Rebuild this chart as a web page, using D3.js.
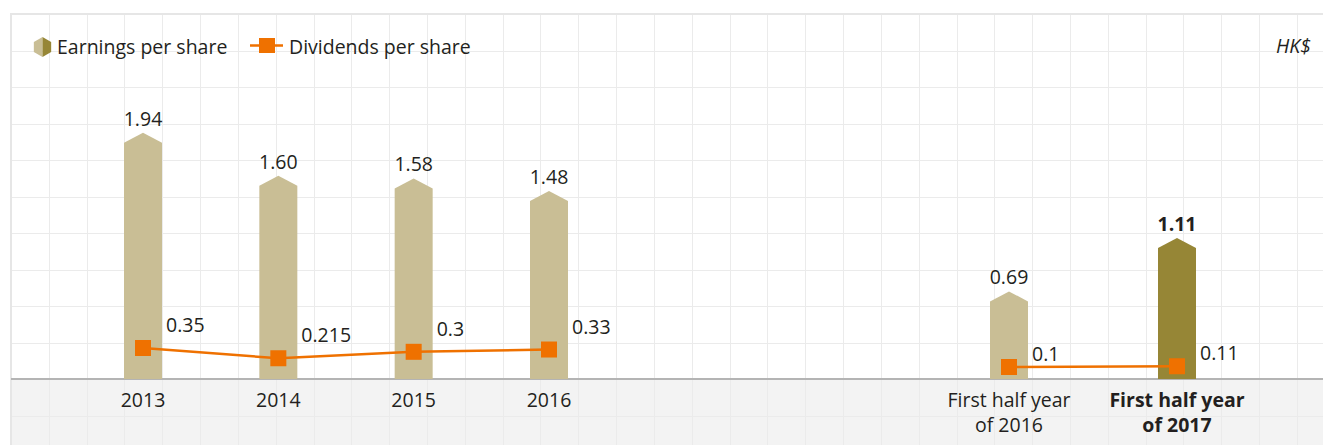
<!DOCTYPE html>
<html><head><meta charset="utf-8">
<script src="https://cdn.jsdelivr.net/npm/d3@7"></script>
<style>html,body{margin:0;padding:0;background:#fff;}svg{display:block;}</style>
</head><body>
<svg id="chart" width="1323" height="445"></svg>
<script>
// ---- data ----
const yearCategories = ["2013", "2014", "2015", "2016"];
const yearEPS = [1.94, 1.60, 1.58, 1.48];
const yearDPS = [0.35, 0.215, 0.3, 0.33];
const yearEPSLabels = ["1.94", "1.60", "1.58", "1.48"];
const yearDPSLabels = ["0.35", "0.215", "0.3", "0.33"];

const halfCategories = ["H1 2016", "H1 2017"];
const halfTickLabels = [["First half year", "of 2016"], ["First half year", "of 2017"]];
const halfEPS = [0.69, 1.11];
const halfDPS = [0.1, 0.11];
const halfEPSLabels = ["0.69", "1.11"];
const halfDPSLabels = ["0.1", "0.11"];

const legendLabels = ["Earnings per share", "Dividends per share"];
const unitLabel = "HK$";

(function () {
// ---- layout ----
const W = 1323, H = 445;
const topY = 14, base = 379, left = 11;
const font = "'Open Sans', 'Noto Sans', sans-serif";
const fs = 19.5;
const textColor = "#231f20";
const barLight = "#c9be95", barDark = "#968636", orange = "#ef7100";
const barW = 38, peak = 10, sq = 16;

const svg = d3.select("#chart").style("font-family", font);

// scales
const y = d3.scaleLinear().domain([0, 2.875]).range([base, topY]);
const y2 = d3.scaleLinear().domain([0, 1]).range([374.6, 298.6]);
const xYears = d3.scalePoint().domain(yearCategories).range([143, 549]);
const xHalf = d3.scalePoint().domain(halfCategories).range([1009, 1177]);

// background grey band
svg.append("rect").attr("x", left).attr("y", base).attr("width", W - left).attr("height", H - base).attr("fill", "#f3f3f3");

// grid
const gx = d3.range(left, W + 1, 37.82);
const gy = d3.range(topY, H + 1, 36.5);
const grid = svg.append("g").attr("stroke", "#ebebeb").attr("stroke-width", 1);
grid.selectAll("line.v").data(gx).join("line").attr("class", "v")
  .attr("x1", d => Math.round(d) + 0.5).attr("x2", d => Math.round(d) + 0.5)
  .attr("y1", topY).attr("y2", H);
grid.selectAll("line.h").data(gy).join("line").attr("class", "h")
  .attr("x1", left).attr("x2", W)
  .attr("y1", d => Math.round(d) + 0.5).attr("y2", d => Math.round(d) + 0.5);
// borders
svg.append("line").attr("x1", left - 1).attr("x2", W).attr("y1", topY).attr("y2", topY).attr("stroke", "#e6e6e6").attr("stroke-width", 2);
svg.append("line").attr("x1", left).attr("x2", left).attr("y1", topY).attr("y2", H).attr("stroke", "#e6e6e6").attr("stroke-width", 2);

// axis line
svg.append("line").attr("x1", left).attr("x2", W).attr("y1", base).attr("y2", base).attr("stroke", "#b4b4b4").attr("stroke-width", 2);

function barPath(cx, v) {
  const x0 = cx - barW / 2, x1 = cx + barW / 2, py = y(v);
  return `M${x0},${base}L${x0},${py + peak}L${cx},${py}L${x1},${py + peak}L${x1},${base}Z`;
}

const yearsData = yearCategories.map((c, i) => ({ c, eps: yearEPS[i], dps: yearDPS[i], el: yearEPSLabels[i], dl: yearDPSLabels[i], x: xYears(c), hl: false, dOff: 16 }));
const halfData = halfCategories.map((c, i) => ({ c, eps: halfEPS[i], dps: halfDPS[i], el: halfEPSLabels[i], dl: halfDPSLabels[i], x: xHalf(c), hl: i === 1, dOff: 6 }));

[yearsData, halfData].forEach(data => {
  const g = svg.append("g");
  g.selectAll("path.bar").data(data).join("path").attr("class", "bar")
    .attr("d", d => barPath(d.x, d.eps)).attr("fill", d => d.hl ? barDark : barLight);
  g.selectAll("text.el").data(data).join("text").attr("class", "el")
    .attr("x", d => d.x).attr("y", d => y(d.eps) - 7).attr("text-anchor", "middle")
    .attr("font-size", fs).attr("font-weight", d => d.hl ? "bold" : "normal").attr("fill", textColor).text(d => d.el);
  const line = d3.line().x(d => d.x).y(d => y2(d.dps));
  g.append("path").datum(data).attr("d", line).attr("fill", "none").attr("stroke", orange).attr("stroke-width", 2.5);
  g.selectAll("rect.m").data(data).join("rect").attr("class", "m")
    .attr("x", d => d.x - sq / 2).attr("y", d => y2(d.dps) - sq / 2).attr("width", sq).attr("height", sq).attr("fill", orange);
  g.selectAll("text.dl").data(data).join("text").attr("class", "dl")
    .attr("x", d => d.x + 23).attr("y", d => y2(d.dps) - d.dOff)
    .attr("font-size", fs).attr("fill", textColor).text(d => d.dl);
});

// x tick labels
svg.selectAll("text.yt").data(yearCategories).join("text").attr("class", "yt")
  .attr("x", d => xYears(d)).attr("y", 407).attr("text-anchor", "middle")
  .attr("font-size", fs).attr("fill", textColor).text(d => d);
halfCategories.forEach((c, i) => {
  const t = svg.append("text").attr("x", xHalf(c)).attr("y", 407).attr("text-anchor", "middle")
    .attr("font-size", fs).attr("fill", textColor).attr("font-weight", i === 1 ? "bold" : "normal");
  halfTickLabels[i].forEach((s, j) => t.append("tspan").attr("x", xHalf(c)).attr("dy", j === 0 ? 0 : 25).text(s));
});

// legend
const hx = 42.5, hy = 47, hr = 10;
const hexPts = d3.range(6).map(k => { const a = Math.PI / 3 * k - Math.PI / 2; return [hx + hr * Math.cos(a), hy + hr * Math.sin(a)]; });
svg.append("path").attr("d", `M${hexPts[0]}L${hexPts[5]}L${hexPts[4]}L${hexPts[3]}Z`).attr("fill", barLight);
svg.append("path").attr("d", `M${hexPts[0]}L${hexPts[1]}L${hexPts[2]}L${hexPts[3]}Z`).attr("fill", barDark);
svg.append("text").attr("x", 57).attr("y", 54).attr("font-size", fs).attr("fill", textColor).text(legendLabels[0]);
svg.append("line").attr("x1", 250).attr("x2", 283).attr("y1", 45.5).attr("y2", 45.5).attr("stroke", orange).attr("stroke-width", 2.5);
svg.append("rect").attr("x", 259).attr("y", 38).attr("width", 16).attr("height", 15).attr("fill", orange);
svg.append("text").attr("x", 289).attr("y", 54).attr("font-size", fs).attr("fill", textColor).text(legendLabels[1]);
svg.append("text").attr("x", 1311).attr("y", 53).attr("text-anchor", "end").attr("font-size", fs).attr("font-style", "italic").attr("fill", textColor).text(unitLabel);
})();
</script>
</body></html>
